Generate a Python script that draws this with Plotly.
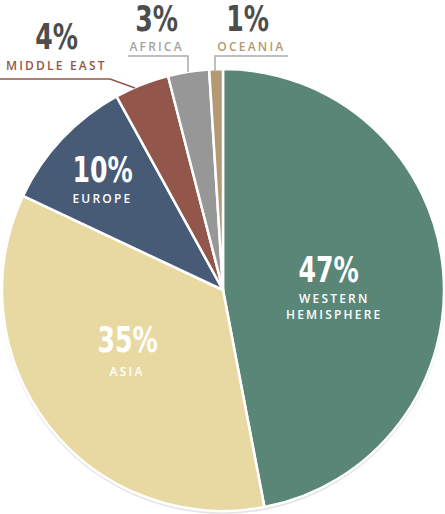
import plotly.graph_objects as go

W, H = 445, 514

regions = ["WESTERN HEMISPHERE", "ASIA", "EUROPE", "MIDDLE EAST", "AFRICA", "OCEANIA"]
shares = [47, 35, 10, 4, 3, 1]
label_lines = ["WESTERN<br>HEMISPHERE", "ASIA", "EUROPE", "MIDDLE EAST", "AFRICA", "OCEANIA"]

colors = ["#5a8677", "#e8d9a2", "#475a76", "#93564b", "#979797", "#b39a72"]
name_colors = ["#ffffff", "#ffffff", "#ffffff", "#93564b", "#a3a3a3", "#b39a72"]
pct_colors = ["#ffffff", "#ffffff", "#ffffff", "#4d4d4d", "#4d4d4d", "#4d4d4d"]
# label positions in pixels (percent centre, name centre)
pct_pos = [(328, 270), (127, 340), (102, 170), (57, 37), (156, 19), (248, 19)]
name_pos = [(334, 306), (127, 371), (102, 199), (57, 65), (156, 46), (251, 46)]

def px(x):
    return x / W

def py(y):
    return 1 - y / H

fig = go.Figure()

# soft shadow
fig.add_trace(go.Pie(
    values=[1], labels=["shadow"], sort=False,
    marker=dict(colors=["#e4e4e4"], line=dict(width=0)),
    textinfo="none", hoverinfo="skip", showlegend=False,
    domain=dict(x=[px(1), px(445)], y=[py(514), py(70)]),
))

fig.add_trace(go.Pie(
    values=shares, labels=regions, sort=False, direction="clockwise", rotation=0,
    marker=dict(colors=colors, line=dict(color="white", width=2.5)),
    textinfo="none", hoverinfo="label+percent", showlegend=False,
    domain=dict(x=[px(2), px(444)], y=[py(511), py(69)]),
))

pct_font = "DejaVu Sans Condensed, DejaVu Sans, sans-serif"
name_font = "Open Sans, DejaVu Sans, sans-serif"

for i, v in enumerate(shares):
    fig.add_annotation(
        x=px(pct_pos[i][0]), y=py(pct_pos[i][1]), xref="paper", yref="paper",
        text=f"<b>{v}%</b>", showarrow=False,
        font=dict(family=pct_font, size=35, color=pct_colors[i]),
        xanchor="center", yanchor="middle",
    )
    fig.add_annotation(
        x=px(name_pos[i][0]), y=py(name_pos[i][1]), xref="paper", yref="paper",
        text=label_lines[i], showarrow=False,
        font=dict(family=name_font, size=12, color=name_colors[i], weight=600),
        xanchor="center", yanchor="middle",
    )

# leader lines for small slices
leaders = [
    ([(0, 79), (110, 79), (135, 88)], "#93564b"),
    ([(128, 56), (188, 56), (188, 72)], "#ababab"),
    ([(288, 56), (215, 56), (215, 72)], "#ababab"),
]
for pts, c in leaders:
    path = "M " + " L ".join(f"{px(x)},{py(y)}" for x, y in pts)
    fig.add_shape(type="path", path=path, xref="paper", yref="paper",
                  line=dict(color=c, width=1.5))

fig.update_layout(
    width=W, height=H, margin=dict(l=0, r=0, t=0, b=0),
    paper_bgcolor="white", plot_bgcolor="white",
)

post = """
document.body.style.margin='0';
document.querySelectorAll('g.annotation text').forEach(function(t){
  var fs = parseFloat(t.style.fontSize);
  if (fs < 20) {
    t.style.letterSpacing = '2.2px';
  } else {
    t.style.transformBox = 'fill-box';
    t.style.transformOrigin = 'center';
    t.style.transform = 'scaleX(0.8)';
  }
});
"""
fig.write_html("out.html", post_script=post, config={"displayModeBar": False})
